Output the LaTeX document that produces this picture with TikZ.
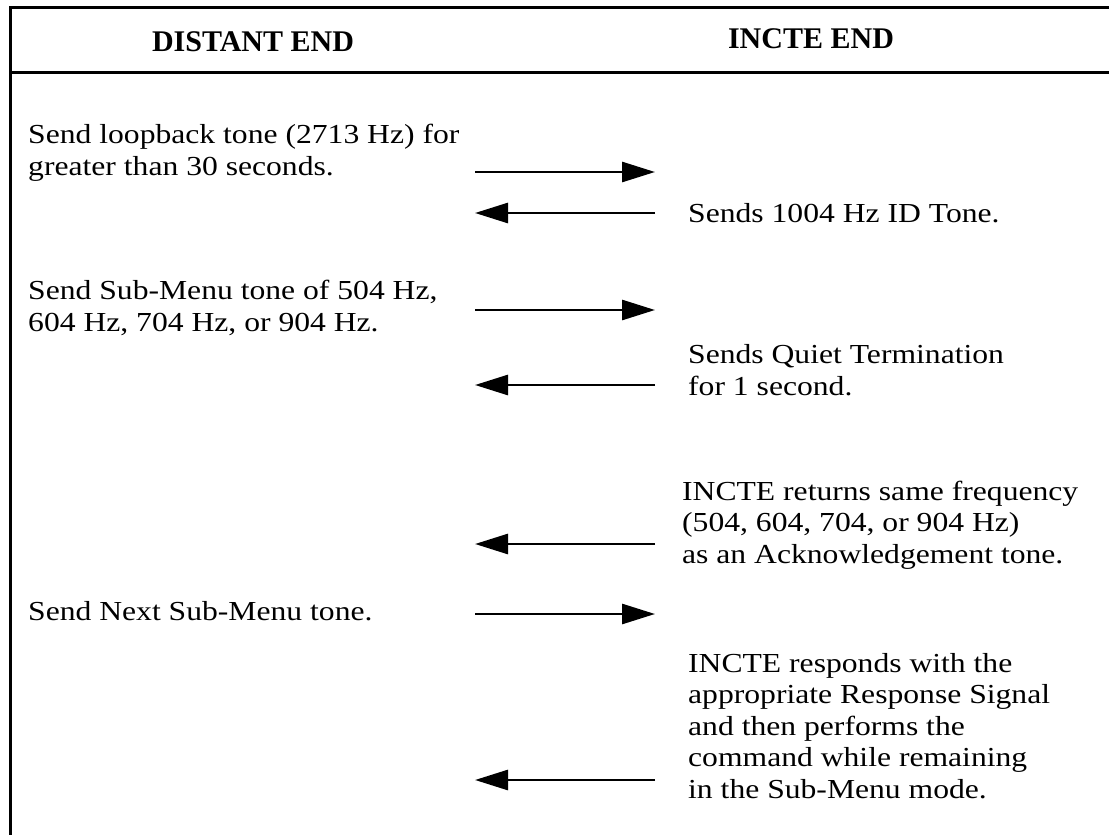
\documentclass[tikz,border=0pt]{standalone}
\usepackage{fontspec}
\setmainfont{Liberation Serif}
\newfontfamily\bodyfont[FakeStretch=1.15]{Liberation Serif}
\usetikzlibrary{arrows.meta}
\tikzset{
  frameline/.style={line width=3pt, line cap=rect},
  msg/.style={line width=2.8pt, -{Triangle[length=33pt,width=20pt]}},
  head/.style={font=\fontsize{30}{34}\selectfont\bfseries, inner sep=0pt, anchor=base},
  txt/.style={font=\bodyfont\fontsize{27.5}{31.5}\selectfont, inner sep=0pt, anchor=base west, align=left},
}
\begin{document}
\begin{tikzpicture}[x=1pt,y=-1pt]
\useasboundingbox (0,0) rectangle (1109,835);
% frame
\coordinate (tl) at (10,7);
\coordinate (tr) at (1109,7);
\coordinate (bl) at (10,835);
\coordinate (hl) at (10,72);
\coordinate (hr) at (1109,72);
\draw[frameline] (bl) -- (tl) -- (tr);
\draw[frameline] (hl) -- (hr);
% headers
\node[head] (h1) at (253,51) {DISTANT END};
\node[head] (h2) at (811,48) {INCTE END};
% left column texts (anchor = baseline of last line)
\node[txt] (l1) at (28,175) {Send loopback tone (2713 Hz) for\\greater than 30 seconds.};
\node[txt] (l2) at (28,331) {Send Sub-Menu tone of 504 Hz,\\604 Hz, 704 Hz, or 904 Hz.};
\node[txt] (l3) at (28,620) {Send Next Sub-Menu tone.};
% right column texts
\node[txt] (r1) at (688,222) {Sends 1004 Hz ID Tone.};
\node[txt] (r2) at (688,395) {Sends Quiet Termination\\for 1 second.};
\node[txt] (r3) at (682,563) {INCTE returns same frequency\\(504, 604, 704, or 904 Hz)\\as an Acknowledgement tone.};
\node[txt] (r4) at (688,798) {INCTE responds with the\\appropriate Response Signal\\and then performs the\\command while remaining\\in the Sub-Menu mode.};
% arrow end points
\coordinate (a1l) at (475,172); \coordinate (a1r) at (655,172);
\coordinate (a2l) at (475,213); \coordinate (a2r) at (655,213);
\coordinate (a3l) at (475,310); \coordinate (a3r) at (655,310);
\coordinate (a4l) at (475,385); \coordinate (a4r) at (655,385);
\coordinate (a5l) at (475,544); \coordinate (a5r) at (655,544);
\coordinate (a6l) at (475,614); \coordinate (a6r) at (655,614);
\coordinate (a7l) at (475,780); \coordinate (a7r) at (655,780);
\draw[msg] (a1l) -- (a1r);
\draw[msg] (a2r) -- (a2l);
\draw[msg] (a3l) -- (a3r);
\draw[msg] (a4r) -- (a4l);
\draw[msg] (a5r) -- (a5l);
\draw[msg] (a6l) -- (a6r);
\draw[msg] (a7r) -- (a7l);
\end{tikzpicture}
\end{document}
